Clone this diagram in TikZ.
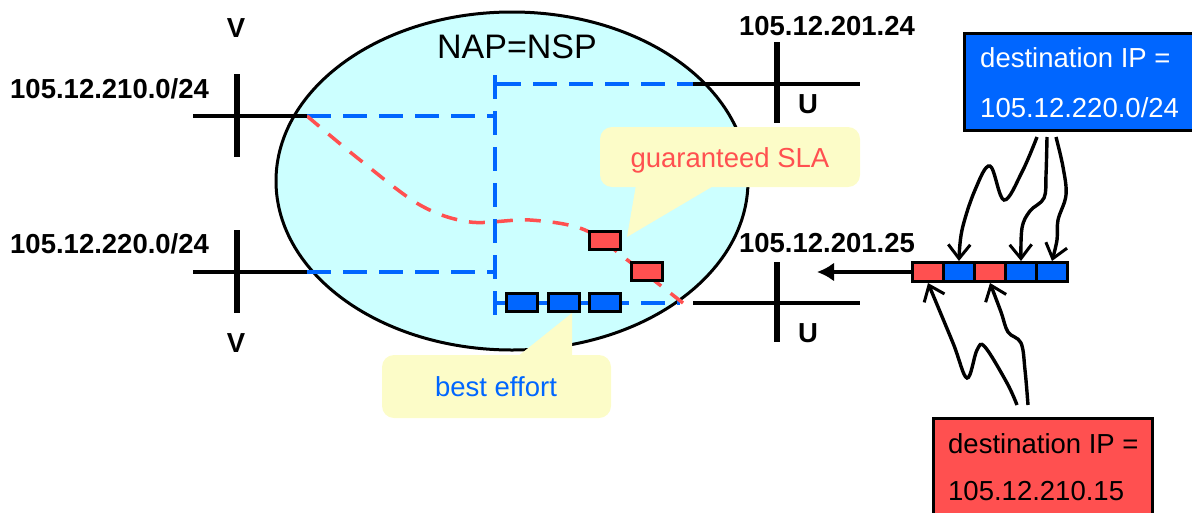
\documentclass[tikz,border=0pt]{standalone}
\usepackage{fontspec}
\setmainfont{Liberation Sans}
\usetikzlibrary{arrows.meta,calc,shapes.geometric}
\definecolor{netblue}{HTML}{0066FF}
\definecolor{netred}{HTML}{FF5050}
\definecolor{cloudfill}{HTML}{CCFFFF}
\definecolor{notefill}{HTML}{FCFCC8}

\begin{document}
\begin{tikzpicture}[x=1pt,y=-1pt,
  lbl/.style={inner sep=0pt, font=\fontsize{27.5}{30}\selectfont\bfseries},
  txt/.style={inner sep=0pt, font=\fontsize{27.5}{30}\selectfont},
  bar/.style={line width=5.5pt},
  wire/.style={line width=3.5pt},
  bluedash/.style={netblue, line width=3.8pt, dash pattern=on 24pt off 12pt},
  reddash/.style={netred, line width=3.5pt, dash pattern=on 16pt off 12pt},
  pkt/.style={draw=black, line width=3pt, minimum width=31pt, minimum height=18.5pt, inner sep=0pt},
  note/.style={fill=notefill, rounded corners=12pt},
  hop/.style={line width=3.4pt, -{Straight Barb[length=14pt,width=22pt,line width=3pt]}},
]
\useasboundingbox (0,0) rectangle (1192,512);
\clip (0,0) rectangle (1192,512);

% the provider cloud
\node[ellipse, draw=black, fill=cloudfill, line width=3pt,
      minimum width=472pt, minimum height=338pt, inner sep=0pt] (cloud) at (512,181) {};
\node[txt, font=\fontsize{34}{36}\selectfont, anchor=base] (nap) at (517,58) {NAP=NSP};

% attachment points of the four access lines
\coordinate (v1in) at (307,116);
\coordinate (v2in) at (307,272);
\coordinate (u1in) at (693,84);
\coordinate (u2in) at (693,303);
\coordinate (u2edge) at (680,303);
\coordinate (core1) at (495,116);
\coordinate (core2) at (495,272);
\coordinate (coretop) at (495,75);
\coordinate (corebot) at (495,323);
\coordinate (cu1) at (497,84);
\coordinate (cu2) at (497,303);

% internal paths (blue)
\draw[bluedash] (v1in) -- (core1);
\draw[bluedash] (v2in) -- (core2);
\draw[bluedash] (coretop) -- (corebot);
\draw[bluedash] (cu1) -- (u1in);
\draw[bluedash] (cu2) -- (u2edge);

% guaranteed path (red)
\draw[reddash] plot[smooth, tension=0.55] coordinates
  {(307,116) (360,160) (420,205) (470,222) (530,220) (585,230) (630,262) (683,303)};

% access lines V and U
\coordinate (v1w) at (193,116);
\coordinate (v2w) at (193,272);
\coordinate (u1e) at (860,84);
\coordinate (u2e) at (860,303);
\draw[wire] (v1w) -- (v1in);
\draw[wire] (v2w) -- (v2in);
\draw[wire] (u1in) -- (u1e);
\draw[wire] (u2in) -- (u2e);
\coordinate (v1t) at (237,74);  \coordinate (v1b) at (237,157);
\coordinate (v2t) at (237,230); \coordinate (v2b) at (237,313);
\coordinate (u1t) at (777,42);  \coordinate (u1b) at (777,123);
\coordinate (u2t) at (777,262); \coordinate (u2b) at (777,342);
\draw[bar] (v1t) -- (v1b);
\draw[bar] (v2t) -- (v2b);
\draw[bar] (u1t) -- (u1b);
\draw[bar] (u2t) -- (u2b);

\node[lbl, anchor=base] (vtop) at (236,37) {V};
\node[lbl, anchor=base] (vbot) at (236,352) {V};
\node[lbl, anchor=base west] (net1) at (10,98) {105.12.210.0/24};
\node[lbl, anchor=base west] (net2) at (10,253) {105.12.220.0/24};
\node[lbl, anchor=base] (addr1) at (827,35) {105.12.201.24};
\node[lbl, anchor=base] (addr2) at (827,252) {105.12.201.25};
\node[lbl, anchor=base] (utop) at (808,113) {U};
\node[lbl, anchor=base] (ubot) at (808,342) {U};

% callouts
\fill[note] (600,127) rectangle (860,187);
\fill[notefill] (636,185) -- (715,185) -- (627,237) -- cycle;
\node[txt, text=netred, anchor=base] (sla) at (730,167) {guaranteed SLA};
\fill[note] (382,355) rectangle (611,418);
\fill[notefill] (517,357) -- (572,313) -- (572,357) -- cycle;
\node[txt, text=netblue, anchor=base] (be) at (496,396) {best effort};

% queued packets inside the cloud
\node[pkt, fill=netred] (r1) at (605,240.5) {};
\node[pkt, fill=netred] (r2) at (646.5,271.5) {};
\node[pkt, fill=netblue] (b1) at (521.5,302.5) {};
\node[pkt, fill=netblue] (b2) at (563.5,302.5) {};
\node[pkt, fill=netblue] (b3) at (605,302.5) {};

% incoming packet stream
\node[pkt, minimum width=31pt, minimum height=19pt, fill=netred]  (c1) at (928,272) {};
\node[pkt, minimum width=31pt, minimum height=19pt, fill=netblue] (c2) at (959,272) {};
\node[pkt, minimum width=31pt, minimum height=19pt, fill=netred]  (c3) at (990,272) {};
\node[pkt, minimum width=31pt, minimum height=19pt, fill=netblue] (c4) at (1021,272) {};
\node[pkt, minimum width=31pt, minimum height=19pt, fill=netblue] (c5) at (1052,272) {};
\coordinate (outport) at (817,272);
\draw[line width=3.4pt, -{Latex[length=17pt,width=19pt]}] (c1.west) -- (outport);

% classifier boxes
\node[draw=black, fill=netblue, line width=3pt, minimum width=236pt, minimum height=97pt,
      inner sep=0pt] (bbox) at (1082.5,82) {};
\node[txt, text=white, anchor=base west] (bl1) at (980,67) {destination IP =};
\node[txt, text=white, anchor=base west] (bl2) at (980,117) {105.12.220.0/24};
\node[draw=black, fill=netred, line width=3pt, minimum width=219pt, minimum height=112pt,
      inner sep=0pt] (rbox) at (1043,474.5) {};
\node[txt, text=black, anchor=base west] (rl1) at (948,453) {destination IP =};
\node[txt, text=black, anchor=base west] (rl2) at (948,500) {105.12.210.15};

% blue-class packets
\coordinate (bs1) at ($(bbox.south)+(-45.5,5)$);
\coordinate (bs2) at ($(bbox.south)+(-35.5,5)$);
\coordinate (bs3) at ($(bbox.south)+(-26.5,5)$);
\draw[hop] plot[smooth, tension=0.6] coordinates
  {(bs1) (1022,172) (1004,200) (990,166) (975,190) (962,230) (c2.north)};
\draw[hop] plot[smooth, tension=0.6] coordinates
  {(bs2) (1046,175) (1044,198) (1030,211) (1022,228) (c4.north)};
\draw[hop] plot[smooth, tension=0.6] coordinates
  {(bs3) (1063,167) (1066,195) (1058,220) (1057,240) (c5.north)};

% red-class packets
\coordinate (rs1) at ($(rbox.north)+(-26,-12)$);
\coordinate (rs2) at ($(rbox.north)+(-15,-12)$);
\draw[hop] plot[smooth, tension=0.6] coordinates
  {(rs1) (1007,383) (985,347) (977,350) (967,378) (953,343) (c1.south)};
\draw[hop] plot[smooth, tension=0.6] coordinates
  {(rs2) (1025,370) (1021,343) (1008,332) (1001,312) (c3.south)};
\end{tikzpicture}
\end{document}
